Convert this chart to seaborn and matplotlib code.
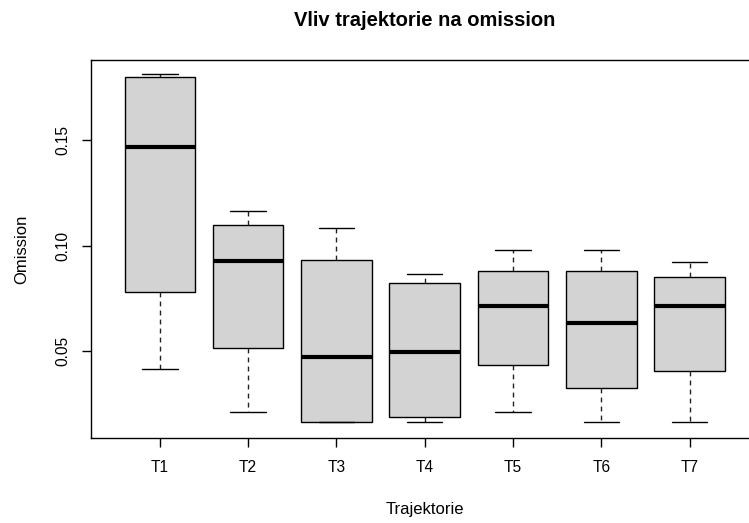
import pandas as pd
import numpy as np
import matplotlib
matplotlib.use("Agg")
import matplotlib.pyplot as plt
import seaborn as sns

sns.set_style("white")
plt.rcParams['font.family'] = ['Liberation Sans', 'DejaVu Sans']
plt.rcParams['text.color'] = 'black'
plt.rcParams['axes.labelcolor'] = 'black'

# five number summaries (min, q1, median, q3, max)
trajektorie = ["T1", "T2", "T3", "T4", "T5", "T6", "T7"]
t1 = [0.0416, 0.0782, 0.1467, 0.1802, 0.1815]
t2 = [0.0212, 0.0513, 0.0929, 0.1100, 0.1165]
t3 = [0.0161, 0.0161, 0.0473, 0.0934, 0.1084]
t4 = [0.0164, 0.0185, 0.0494, 0.0821, 0.0867]
t5 = [0.0212, 0.0432, 0.0715, 0.0878, 0.0978]
t6 = [0.0161, 0.0326, 0.0634, 0.0878, 0.0978]
t7 = [0.0161, 0.0406, 0.0715, 0.0851, 0.0923]

values = [t1, t2, t3, t4, t5, t6, t7]

rows = []
for name, vals in zip(trajektorie, values):
    for v in vals:
        rows.append({"Trajektorie": name, "Omission": v})
df = pd.DataFrame(rows)

fig = plt.figure(figsize=(7.49, 5.23), dpi=100)
ax = fig.add_axes([0.1215, 0.1625, 0.891, 0.7228])

sns.boxplot(data=df, x="Trajektorie", y="Omission", order=trajektorie,
            color="#D3D3D3", saturation=1, linecolor="black", linewidth=1,
            width=0.8, whis=1.5, ax=ax,
            medianprops={"color": "black", "linewidth": 3},
            whiskerprops={"color": "#222222", "linestyle": (0, (3.5, 3))},
            capprops={"color": "black"})

ax.set_xlim(-0.78, 6.78)
ax.set_ylim(0.0087, 0.1882)
ax.set_yticks([0.05, 0.10, 0.15])
ax.set_yticklabels(["0.05", "0.10", "0.15"], rotation=90, va="center")

for s in ax.spines.values():
    s.set_color("black")
    s.set_linewidth(1)

ax.tick_params(axis="both", which="major", length=6.5, width=1, color="black",
               labelsize=11.2, labelcolor="black", bottom=True, left=True)
ax.tick_params(axis="x", pad=9)
ax.tick_params(axis="y", pad=8)

ax.set_xlabel("Trajektorie", fontsize=12, labelpad=20)
ax.set_ylabel("Omission", fontsize=12, labelpad=19)
fig.text(0.5668, 1 - 20 / 523, "Vliv trajektorie na omission", ha="center",
         va="center", fontsize=14.5, fontweight="bold", color="black")

fig.savefig("out.png", dpi=100)
